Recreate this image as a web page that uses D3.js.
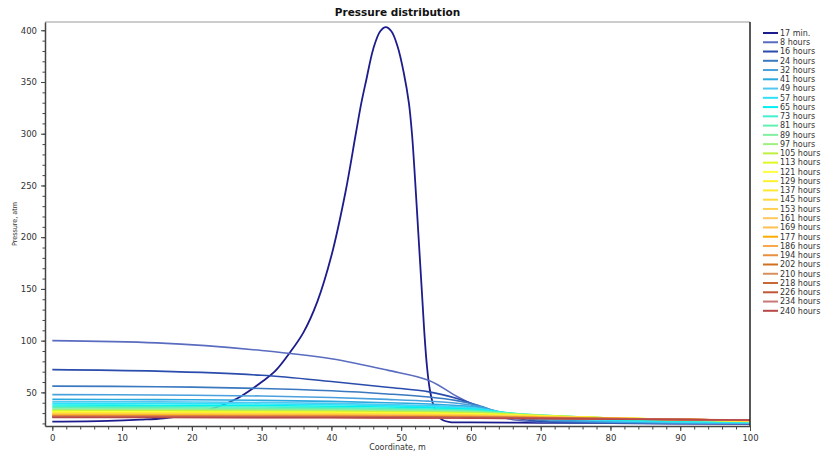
<!DOCTYPE html>
<html>
<head>
<meta charset="utf-8">
<script src="https://cdn.jsdelivr.net/npm/d3@7"></script>
<style>
  body { margin: 0; background: #fff; }
  #chart { width: 823px; height: 455px; }
  text { font-family: "DejaVu Sans", Verdana, sans-serif; }
</style>
</head>
<body>
<div id="chart"></div>
<script>
const xGrid = [0, 15, 30, 40, 48, 54, 58, 61, 65, 70, 80, 100];

// First profile (17 min) has a sharp pressure peak, so it gets its own x samples
const x17 = [0, 8, 12.6, 16, 20, 23, 24.5, 27, 30, 32, 34, 36, 38, 40, 42, 43.5, 44.3, 45, 46, 47, 47.8,
             48.6, 49.5, 50.4, 51.1, 51.55, 52, 52.45, 52.9, 53.3, 53.7, 54.1, 54.6, 55.2, 56, 57, 60, 70, 80, 100];
const p17 = [21.7, 22.4, 23.6, 25, 29, 34.5, 38, 46, 60, 71, 88, 108, 138, 182, 243, 300, 330, 352, 382, 399, 403,
             399, 384, 358, 330, 300, 255, 205, 155, 110, 75, 53, 38, 28, 23, 21.3, 21, 20.6, 20.3, 20];

const seriesNames = ['17 min.', '8 hours', '16 hours', '24 hours', '32 hours', '41 hours', '49 hours',
  '57 hours', '65 hours', '73 hours', '81 hours', '89 hours', '97 hours', '105 hours', '113 hours',
  '121 hours', '129 hours', '137 hours', '145 hours', '153 hours', '161 hours', '169 hours',
  '177 hours', '186 hours', '194 hours', '202 hours', '210 hours', '218 hours', '226 hours',
  '234 hours', '240 hours'];

// Pressure (atm) at xGrid for 8 hours .. 240 hours
const seriesValues = [
  [100, 97.8, 90.5, 82.5, 71.5, 61.5, 46, 36, 25, 21.3, 20.2, 19.6],
  [72, 70.5, 66.5, 60.5, 55, 50.5, 44, 37, 27, 22, 20.5, 19.8],
  [56, 55.5, 53.8, 51.5, 48.5, 45.5, 42, 37.5, 28.5, 23, 21, 20],
  [47.8, 47.5, 46.5, 45, 43.2, 41.5, 39.5, 36.5, 29.5, 24, 21.5, 20.2],
  [43.2, 43, 42.3, 41.3, 40, 38.8, 37.3, 35.5, 30, 25, 22, 20.4],
  [41, 40.8, 40.2, 39.4, 38.3, 37.2, 36, 34.6, 30.3, 26, 22.6, 20.6],
  [39.5, 39.3, 38.8, 38.1, 37.2, 36.2, 35.2, 34, 30.4, 26.8, 23.2, 20.9],
  [37.8, 37.6, 37.2, 36.6, 35.8, 35, 34.2, 33.2, 30.3, 27.4, 23.8, 21.2],
  [36.3, 36.2, 35.8, 35.3, 34.6, 33.9, 33.2, 32.4, 30.2, 27.8, 24.3, 21.5],
  [35.1, 35, 34.7, 34.2, 33.6, 33, 32.4, 31.7, 30, 28, 25.1, 21.8],
  [34, 33.9, 33.6, 33.2, 32.7, 32.1, 31.6, 31, 29.7, 27.9, 25.2, 21.9],
  [33.1, 33, 32.7, 32.4, 31.9, 31.4, 30.9, 30.4, 29.4, 27.7, 25.3, 22.1],
  [32.3, 32.2, 32, 31.7, 31.2, 30.8, 30.3, 29.9, 29.1, 27.5, 25.3, 22.2],
  [31.6, 31.5, 31.3, 31, 30.6, 30.2, 29.8, 29.4, 28.7, 27.3, 25.3, 22.3],
  [31, 30.9, 30.7, 30.4, 30.1, 29.7, 29.3, 29, 28.3, 27.1, 25.2, 22.4],
  [30.4, 30.3, 30.1, 29.9, 29.6, 29.2, 28.9, 28.6, 28, 26.9, 25.2, 22.5],
  [29.9, 29.8, 29.6, 29.4, 29.1, 28.8, 28.5, 28.2, 27.7, 26.7, 25.1, 22.6],
  [29.4, 29.3, 29.2, 29, 28.7, 28.4, 28.1, 27.9, 27.4, 26.5, 25.1, 22.7],
  [29, 28.9, 28.8, 28.6, 28.3, 28, 27.8, 27.6, 27.1, 26.3, 25, 22.8],
  [28.6, 28.5, 28.4, 28.2, 28, 27.7, 27.5, 27.3, 26.9, 26.2, 25, 22.8],
  [28.2, 28.1, 28, 27.9, 27.6, 27.4, 27.2, 27, 26.6, 26, 24.9, 22.9],
  [27.8, 27.8, 27.7, 27.5, 27.3, 27.1, 26.9, 26.7, 26.4, 25.8, 24.8, 23],
  [27.5, 27.4, 27.3, 27.2, 27, 26.8, 26.6, 26.5, 26.2, 25.7, 24.7, 23],
  [27.2, 27.1, 27, 26.9, 26.7, 26.5, 26.4, 26.2, 26, 25.5, 24.6, 23.1],
  [26.9, 26.8, 26.7, 26.6, 26.4, 26.3, 26.1, 26, 25.8, 25.4, 24.6, 23.1],
  [26.6, 26.6, 26.5, 26.4, 26.2, 26, 25.9, 25.8, 25.6, 25.2, 24.5, 23.2],
  [26.4, 26.3, 26.2, 26.1, 26, 25.8, 25.7, 25.6, 25.4, 25.1, 24.4, 23.2],
  [26.1, 26.1, 26, 25.9, 25.8, 25.6, 25.5, 25.4, 25.2, 24.9, 24.3, 23.2],
  [25.9, 25.9, 25.8, 25.7, 25.6, 25.4, 25.3, 25.2, 25.1, 24.8, 24.2, 23.3],
  [25.7, 25.7, 25.6, 25.5, 25.4, 25.3, 25.2, 25.1, 24.9, 24.7, 24.1, 23.3]
];

// Line colours (jet-like), one per legend entry
const palette = ['#1c1c8c', '#5a6cc0', '#2a4cac', '#3a78c0', '#4aa0dc', '#2aa8e0', '#50c8f0',
  '#30e0f8', '#00f0f0', '#40f0d0', '#60f0b0', '#80f0a0', '#a0f080', '#c0f040', '#e0f820',
  '#ffff40', '#fff030', '#ffe830', '#ffd840', '#ffd050', '#ffc860', '#ffc050', '#ffaa00',
  '#f8a848', '#e89040', '#d07020', '#d89060', '#c86838', '#c05838', '#c87878', '#b84848'];

const xTicks = d3.range(0, 101, 10);
const xMinor = d3.range(0, 101, 2);
const yTicks = d3.range(50, 401, 50);
const yMinor = d3.range(20, 401, 10);

const W = 823, H = 455;
const svg = d3.select('#chart').append('svg')
    .attr('width', W)
    .attr('height', H);

const x = d3.scaleLinear().domain([-1.05, 100]).range([45, 750]);
const y = d3.scaleLinear().domain([17.5, 408]).range([426, 22]);

// clip so lines stay inside the frame
svg.append('clipPath').attr('id', 'plot-clip')
  .append('rect')
    .attr('x', 45).attr('y', 22)
    .attr('width', 705).attr('height', 404);

const line = d3.line()
    .x(d => x(d[0]))
    .y(d => y(d[1]))
    .curve(d3.curveCatmullRom.alpha(0.5));

const profiles = [x17.map((v, i) => [v, p17[i]])]
    .concat(seriesValues.map(vals => xGrid.map((v, i) => [v, vals[i]])));

svg.append('g')
    .attr('clip-path', 'url(#plot-clip)')
  .selectAll('path')
  .data(profiles)
  .enter()
  .append('path')
    .attr('d', line)
    .attr('fill', 'none')
    .attr('stroke', (d, i) => palette[i])
    .attr('stroke-width', (d, i) => i === 0 ? 1.8 : 1.6);

// Frame
svg.append('line').attr('x1', 45).attr('x2', 750).attr('y1', 22).attr('y2', 22)
    .attr('stroke', '#999').attr('stroke-width', 1);
svg.append('line').attr('x1', 750).attr('x2', 750).attr('y1', 22).attr('y2', 426)
    .attr('stroke', '#222').attr('stroke-width', 1.5);

// X axis
const xAxis = svg.append('g').attr('transform', 'translate(0,426)');
xAxis.append('g')
    .call(d3.axisBottom(x).tickValues(xMinor).tickSize(3.5).tickFormat(''))
    .call(g => g.select('.domain').remove())
    .call(g => g.selectAll('line').attr('stroke', '#444'));
xAxis.append('g')
    .call(d3.axisBottom(x).tickValues(xTicks).tickSize(5).tickSizeOuter(0).tickPadding(4))
    .call(g => g.select('.domain').attr('stroke', '#444').attr('stroke-width', 1.5))
    .call(g => g.selectAll('line').attr('stroke', '#444'))
    .call(g => g.selectAll('text').attr('fill', '#333').attr('font-size', '8.5px')
        .attr('font-family', '"DejaVu Sans", sans-serif'));

// Y axis
const yAxis = svg.append('g').attr('transform', 'translate(45,0)');
yAxis.append('g')
    .call(d3.axisLeft(y).tickValues(yMinor).tickSize(2.5).tickFormat(''))
    .call(g => g.select('.domain').remove())
    .call(g => g.selectAll('line').attr('stroke', '#444'));
yAxis.append('g')
    .call(d3.axisLeft(y).tickValues(yTicks).tickSize(4).tickSizeOuter(0).tickPadding(4))
    .call(g => g.select('.domain').attr('stroke', '#444').attr('stroke-width', 1.5))
    .call(g => g.selectAll('line').attr('stroke', '#444'))
    .call(g => g.selectAll('text').attr('fill', '#333').attr('font-size', '8.5px')
        .attr('font-family', '"DejaVu Sans", sans-serif'));

// Titles
svg.append('text')
    .attr('x', 397.5).attr('y', 16)
    .attr('text-anchor', 'middle')
    .attr('font-weight', 'bold')
    .attr('font-size', '10.5px')
    .attr('fill', '#111')
    .text('Pressure distribution');

svg.append('text')
    .attr('x', 397.5).attr('y', 450)
    .attr('text-anchor', 'middle')
    .attr('font-size', '8px')
    .attr('fill', '#333')
    .text('Coordinate, m');

svg.append('text')
    .attr('transform', 'translate(17,224) rotate(-90)')
    .attr('text-anchor', 'middle')
    .attr('font-size', '7px')
    .attr('textLength', 44)
    .attr('lengthAdjust', 'spacingAndGlyphs')
    .attr('fill', '#333')
    .text('Pressure, atm');

// Legend
const legend = svg.append('g').attr('transform', 'translate(763,33)');
const rows = legend.selectAll('g')
    .data(seriesNames)
    .enter()
    .append('g')
    .attr('transform', (d, i) => `translate(0, ${i * 9.26})`);

rows.append('line')
    .attr('x1', 0).attr('x2', 15)
    .attr('stroke', (d, i) => palette[i])
    .attr('stroke-width', 2);

rows.append('text')
    .attr('x', 17)
    .attr('dy', '0.35em')
    .attr('font-size', '8px')
    .attr('fill', '#333')
    .text(d => d);
</script>
</body>
</html>
